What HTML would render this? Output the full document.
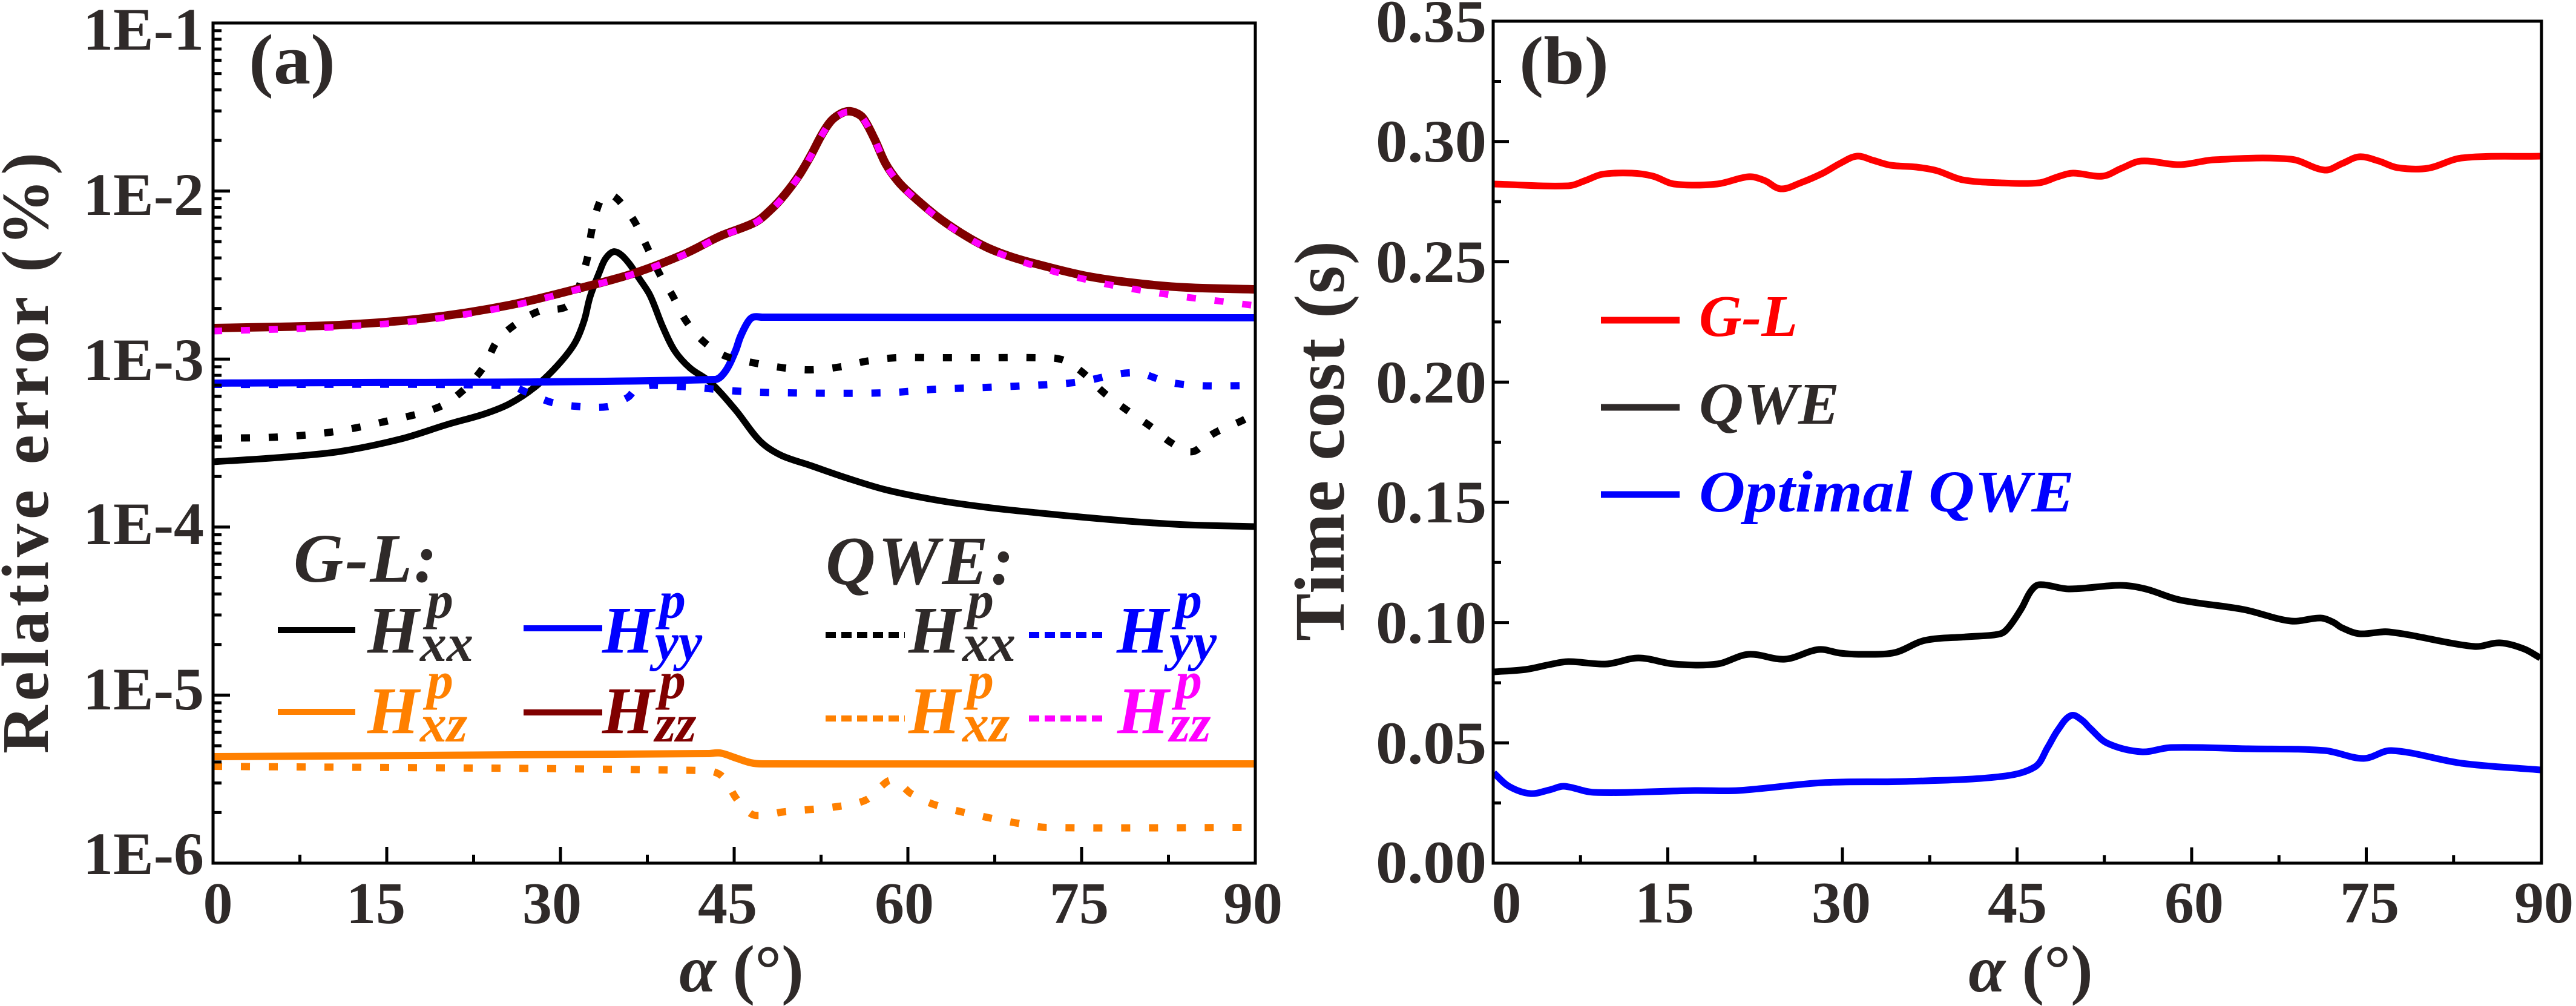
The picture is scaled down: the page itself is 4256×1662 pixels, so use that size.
<!DOCTYPE html>
<html><head><meta charset="utf-8"><style>
html,body{margin:0;padding:0;background:#fff;}
svg{display:block;}
svg text{font-family:"Liberation Serif","Times New Roman",Times,serif;}
</style></head><body>
<svg xmlns="http://www.w3.org/2000/svg" width="4256" height="1662" viewBox="0 0 4256 1662" font-family="Liberation Serif, Times New Roman, serif">
<rect width="4256" height="1662" fill="#fff"/>

<!-- ============ PANEL (a) ============ -->
<g fill="none" stroke-linejoin="round">
<polyline class="s" stroke="#ff8000" stroke-width="12" points="352,1250 1170,1245 1190,1244 1215,1252 1240,1260 1260,1262 2074,1262"/>
<polyline class="s" stroke="#ff8000" stroke-width="12" stroke-dasharray="15 31" points="352,1266 1165,1273 1190,1280 1205,1300 1215,1317 1230,1335 1248,1347 1297,1341 1380,1333 1430,1322 1455,1300 1472,1289 1490,1298 1505,1311 1546,1330 1629,1350 1687,1361 1729,1367 2064,1367"/>
<polyline class="s" stroke="#000" stroke-width="11" points="352,763 459,756 561,746 663,725 740,701 800,684 842,667 883,640 920,605 949,568 965,530 975,490 991,448 1000,428 1013,416 1025,420 1040,436 1056,460 1074,488 1095,540 1115,580 1140,608 1173,631 1215,677 1256,729 1290,752 1339,769 1400,790 1463,809 1546,826 1629,838 1712,847 1795,855 1878,862 1961,867 2074,870"/>
<polyline class="s" stroke="#0000ff" stroke-width="12" points="352,633 1181,627 1198,614 1215,580 1223,557 1235,533 1244,524 1260,524 2074,525"/>
<polyline class="s" stroke="#0000ff" stroke-width="12" stroke-dasharray="15 31" points="352,635 840,637 870,648 912,665 961,672 1003,672 1020,665 1038,656 1049,645 1073,637 1090,637 1148,640 1215,646 1297,649 1463,649 1546,643 1629,640 1754,634 1795,629 1836,620 1865,616 1886,617 1910,625 1928,631 1977,637 2074,637"/>
<polyline class="s" stroke="#000" stroke-width="12" stroke-dasharray="15 31" points="352,724 459,722 546,714 638,696 724,673 765,645 800,605 821,564 850,537 891,514 933,508 950,490 970,428 978,379 991,333 1002,322 1014,324 1030,340 1049,367 1069,408 1090,453 1111,488 1132,528 1161,563 1198,588 1248,600 1297,608 1339,611 1389,606 1430,597 1480,591 1546,591 1629,591 1712,591 1754,594 1787,614 1824,649 1861,677 1903,706 1936,732 1971,746 2002,718 2052,695 2074,683"/>
<polyline class="s" stroke="#800000" stroke-width="14" points="352,542 461,540 561,537 701,526 842,504 966,474 1049,451 1132,419 1190,390 1248,367 1275,345 1297,321 1320,290 1339,258 1358,222 1372,201 1385,190 1399,184 1413,186 1426,195 1445,230 1463,270 1484,300 1505,321 1546,356 1588,385 1629,408 1670,424 1712,436 1795,456 1878,468 1961,475 2074,478"/>
<polyline class="s" stroke="#ff00ff" stroke-width="11" stroke-dasharray="15 31" points="352,547 461,544 561,540 701,529 842,506 966,475 1049,452 1132,420 1190,391 1248,368 1275,346 1297,322 1320,291 1339,259 1358,223 1372,202 1385,191 1399,185 1413,187 1426,196 1445,231 1463,271 1484,301 1505,322 1546,357 1588,386 1629,409 1670,426 1712,440 1754,452 1795,462 1836,471 1900,482 1961,491 2020,498 2074,505"/>
</g>

<rect x="352" y="38" width="1722" height="1388" fill="none" stroke="#000" stroke-width="5"/>
<g stroke="#000" stroke-width="5">
<line x1="352" y1="38" x2="380" y2="38"/>
<line x1="352" y1="315.6" x2="380" y2="315.6"/>
<line x1="352" y1="593.2" x2="380" y2="593.2"/>
<line x1="352" y1="870.8" x2="380" y2="870.8"/>
<line x1="352" y1="1148.4" x2="380" y2="1148.4"/>
<path d="M352 232H366M352 183.2H366M352 148.5H366M352 121.6H366M352 99.6H366M352 81H366M352 64.9H366M352 50.7H366
M352 509.6H366M352 460.8H366M352 426.1H366M352 399.2H366M352 377.2H366M352 358.6H366M352 342.5H366M352 328.3H366
M352 787.2H366M352 738.4H366M352 703.7H366M352 676.8H366M352 654.8H366M352 636.2H366M352 620.1H366M352 605.9H366
M352 1064.8H366M352 1016H366M352 981.3H366M352 954.4H366M352 932.4H366M352 913.8H366M352 897.7H366M352 883.5H366
M352 1342.4H366M352 1293.6H366M352 1258.9H366M352 1232H366M352 1210H366M352 1191.4H366M352 1175.3H366M352 1161.1H366"/>
<path d="M639 1426V1399M926 1426V1399M1213 1426V1399M1500 1426V1399M1787 1426V1399
M495.5 1426V1412M782.5 1426V1412M1069.5 1426V1412M1356.5 1426V1412M1643.5 1426V1412M1930.5 1426V1412"/>
</g>

<g fill="#2f2a29" font-weight="bold" font-size="100">
<text x="337" y="82" text-anchor="end">1E-1</text>
<text x="337" y="355" text-anchor="end">1E-2</text>
<text x="337" y="628" text-anchor="end">1E-3</text>
<text x="337" y="899" text-anchor="end">1E-4</text>
<text x="337" y="1172" text-anchor="end">1E-5</text>
<text x="337" y="1444" text-anchor="end">1E-6</text>
</g>
<g fill="#2f2a29" font-weight="bold" font-size="98" text-anchor="middle">
<text x="360" y="1525">0</text>
<text x="621" y="1525">15</text>
<text x="912" y="1525">30</text>
<text x="1202" y="1525">45</text>
<text x="1494" y="1525">60</text>
<text x="1783" y="1525">75</text>
<text x="2070" y="1525">90</text>
</g>
<text x="1225" y="1638" text-anchor="middle" font-size="110" font-weight="bold" fill="#2f2a29"><tspan font-style="italic">α</tspan> (°)</text>
<text transform="translate(79,1245) rotate(-90)" font-size="110" font-weight="bold" fill="#2f2a29" textLength="993" lengthAdjust="spacing">Relative error (%)</text>
<text x="411" y="138" font-size="118" font-weight="bold" fill="#2f2a29" textLength="143" lengthAdjust="spacingAndGlyphs">(a)</text>

<g font-weight="bold" font-style="italic">
<text x="485" y="961" font-size="114" fill="#2f2a29" textLength="237" lengthAdjust="spacing">G-L:</text>
<text x="1364" y="965" font-size="114" fill="#2f2a29" textLength="311" lengthAdjust="spacing">QWE:</text>
</g>
<g stroke-width="10" fill="none">
<line x1="459" y1="1041" x2="587" y2="1041" stroke="#000"/>
<line x1="865" y1="1038" x2="995" y2="1038" stroke="#0000ff"/>
<line x1="459" y1="1176" x2="587" y2="1176" stroke="#ff8000"/>
<line x1="865" y1="1177" x2="995" y2="1177" stroke="#800000"/>
<line x1="1364" y1="1049" x2="1495" y2="1049" stroke="#000" stroke-dasharray="17 9"/>
<line x1="1700" y1="1049" x2="1828" y2="1049" stroke="#0000ff" stroke-dasharray="17 9"/>
<line x1="1364" y1="1187" x2="1495" y2="1187" stroke="#ff8000" stroke-dasharray="17 9"/>
<line x1="1700" y1="1187" x2="1828" y2="1187" stroke="#ff00ff" stroke-dasharray="17 9"/>
</g>
<g font-weight="bold" font-style="italic">
<g fill="#2f2a29"><text x="607" y="1078" font-size="110">H</text><text x="705" y="1021" font-size="88">p</text><text x="694" y="1092" font-size="88">xx</text></g>
<g fill="#0000ff"><text x="995" y="1078" font-size="110">H</text><text x="1089" y="1021" font-size="88">p</text><text x="1082" y="1090" font-size="88">yy</text></g>
<g fill="#ff8000"><text x="607" y="1211" font-size="110">H</text><text x="705" y="1154" font-size="88">p</text><text x="694" y="1225" font-size="88">xz</text></g>
<g fill="#800000"><text x="995" y="1211" font-size="110">H</text><text x="1089" y="1154" font-size="88">p</text><text x="1082" y="1225" font-size="88">zz</text></g>
<g fill="#2f2a29"><text x="1501" y="1078" font-size="110">H</text><text x="1598" y="1021" font-size="88">p</text><text x="1590" y="1092" font-size="88">xx</text></g>
<g fill="#0000ff"><text x="1845" y="1078" font-size="110">H</text><text x="1942" y="1021" font-size="88">p</text><text x="1932" y="1090" font-size="88">yy</text></g>
<g fill="#ff8000"><text x="1501" y="1211" font-size="110">H</text><text x="1598" y="1154" font-size="88">p</text><text x="1590" y="1225" font-size="88">xz</text></g>
<g fill="#ff00ff"><text x="1846" y="1211" font-size="110">H</text><text x="1942" y="1154" font-size="88">p</text><text x="1932" y="1225" font-size="88">zz</text></g>
</g>

<!-- ============ PANEL (b) ============ -->
<g fill="none" stroke-linejoin="round" stroke-width="11">
<polyline class="s" stroke="#ff0000" points="2468,304 2591,307 2620,298 2647,288 2696,286 2731,291 2766,304 2837,304 2889,292 2915,298 2942,312 2975,302 3012,286 3040,270 3068,258 3095,265 3124,273 3166,276 3200,282 3242,297 3305,302 3369,302 3400,292 3425,286 3474,291 3505,278 3538,266 3601,272 3658,264 3785,263 3841,281 3870,270 3898,259 3930,266 3961,277 4011,278 4067,261 4197,258"/>
<polyline class="s" stroke="#000" points="2468,1110 2521,1106 2560,1098 2591,1093 2654,1097 2707,1087 2766,1097 2837,1097 2889,1081 2949,1089 3005,1073 3040,1079 3082,1081 3131,1078 3180,1058 3250,1052 3305,1047 3319,1036 3340,1005 3355,977 3369,966 3418,973 3503,967 3545,973 3601,991 3707,1007 3785,1026 3834,1021 3855,1028 3869,1037 3898,1047 3947,1044 4088,1068 4130,1062 4170,1072 4197,1087"/>
<polyline class="s" stroke="#0000ff" points="2468,1277 2493,1299 2528,1311 2560,1305 2584,1299 2633,1309 2801,1306 2872,1306 3012,1293 3150,1291 3305,1283 3362,1267 3383,1235 3400,1206 3422,1182 3440,1190 3453,1203 3482,1228 3538,1242 3587,1235 3714,1237 3841,1240 3905,1253 3951,1240 4067,1261 4197,1272"/>
</g>

<rect x="2467" y="35" width="1732" height="1391" fill="none" stroke="#000" stroke-width="5"/>
<g stroke="#000" stroke-width="5">
<path d="M2467 1227.3H2493M2467 1028.6H2493M2467 829.9H2493M2467 631.2H2493M2467 432.5H2493M2467 233.8H2493
M2467 1326.65H2480M2467 1127.95H2480M2467 929.25H2480M2467 730.55H2480M2467 531.85H2480M2467 333.15H2480M2467 134.45H2480"/>
<path d="M2755.5 1426V1400M3044 1426V1400M3332.5 1426V1400M3621 1426V1400M3909.5 1426V1400
M2611.25 1426V1413M2899.75 1426V1413M3188.25 1426V1413M3476.75 1426V1413M3765.25 1426V1413M4053.75 1426V1413"/>
</g>

<g fill="#2f2a29" font-weight="bold" font-size="100" text-anchor="end">
<text x="2456" y="69" textLength="183" lengthAdjust="spacingAndGlyphs">0.35</text>
<text x="2456" y="267" textLength="183" lengthAdjust="spacingAndGlyphs">0.30</text>
<text x="2456" y="466" textLength="183" lengthAdjust="spacingAndGlyphs">0.25</text>
<text x="2456" y="665" textLength="183" lengthAdjust="spacingAndGlyphs">0.20</text>
<text x="2456" y="863" textLength="183" lengthAdjust="spacingAndGlyphs">0.15</text>
<text x="2456" y="1062" textLength="183" lengthAdjust="spacingAndGlyphs">0.10</text>
<text x="2456" y="1261" textLength="183" lengthAdjust="spacingAndGlyphs">0.05</text>
<text x="2456" y="1458" textLength="183" lengthAdjust="spacingAndGlyphs">0.00</text>
</g>
<g fill="#2f2a29" font-weight="bold" font-size="98" text-anchor="middle">
<text x="2489" y="1524">0</text>
<text x="2750" y="1524">15</text>
<text x="3042" y="1524">30</text>
<text x="3333" y="1524">45</text>
<text x="3625" y="1524">60</text>
<text x="3915" y="1524">75</text>
<text x="4203" y="1524">90</text>
</g>
<text x="3355" y="1638" text-anchor="middle" font-size="110" font-weight="bold" fill="#2f2a29"><tspan font-style="italic">α</tspan> (°)</text>
<text transform="translate(2220,1059) rotate(-90)" font-size="118" font-weight="bold" fill="#2f2a29" textLength="661" lengthAdjust="spacing">Time cost (s)</text>
<text x="2510" y="138" font-size="112" font-weight="bold" fill="#2f2a29" textLength="148" lengthAdjust="spacingAndGlyphs">(b)</text>

<g stroke-width="11">
<line x1="2645" y1="529" x2="2775" y2="529" stroke="#ff0000"/>
<line x1="2645" y1="673" x2="2775" y2="673" stroke="#2f2a29"/>
<line x1="2645" y1="817" x2="2775" y2="817" stroke="#0000ff"/>
</g>
<g font-weight="bold" font-style="italic" font-size="98">
<text x="2807" y="555" fill="#ff0000" textLength="163" lengthAdjust="spacingAndGlyphs">G-L</text>
<text x="2807" y="700" fill="#2f2a29" textLength="232" lengthAdjust="spacingAndGlyphs">QWE</text>
<text x="2807" y="845" fill="#0000ff" textLength="620" lengthAdjust="spacingAndGlyphs">Optimal QWE</text>
</g>
</svg>
<script>
(function(){
  var NS="http://www.w3.org/2000/svg";
  var pls=document.querySelectorAll("polyline.s");
  for(var k=0;k<pls.length;k++){
    var pl=pls[k];
    var raw=pl.getAttribute("points").trim().split(/\s+/);
    var pts=raw.map(function(p){var a=p.split(",");return [parseFloat(a[0]),parseFloat(a[1])];});
    var n=pts.length;
    function tan(i){
      var a=pts[i>0?i-1:i], b=pts[i<n-1?i+1:i];
      var dx=b[0]-a[0], dy=b[1]-a[1], L=Math.sqrt(dx*dx+dy*dy)||1;
      return [dx/L, dy/L];
    }
    var d="M"+pts[0][0]+","+pts[0][1];
    for(var i=0;i<n-1;i++){
      var p1=pts[i], p2=pts[i+1];
      var dx=p2[0]-p1[0], dy=p2[1]-p1[1];
      var len=Math.sqrt(dx*dx+dy*dy)/3;
      var t1=tan(i), t2=tan(i+1);
      var c1=[p1[0]+t1[0]*len, p1[1]+t1[1]*len];
      var c2=[p2[0]-t2[0]*len, p2[1]-t2[1]*len];
      d+=" C"+c1[0].toFixed(1)+","+c1[1].toFixed(1)+" "+c2[0].toFixed(1)+","+c2[1].toFixed(1)+" "+p2[0]+","+p2[1];
    }
    var path=document.createElementNS(NS,"path");
    for(var j=0;j<pl.attributes.length;j++){
      var at=pl.attributes[j];
      if(at.name!=="points"&&at.name!=="class") path.setAttribute(at.name,at.value);
    }
    path.setAttribute("d",d);
    pl.parentNode.replaceChild(path,pl);
  }
})();
</script>
</body></html>
